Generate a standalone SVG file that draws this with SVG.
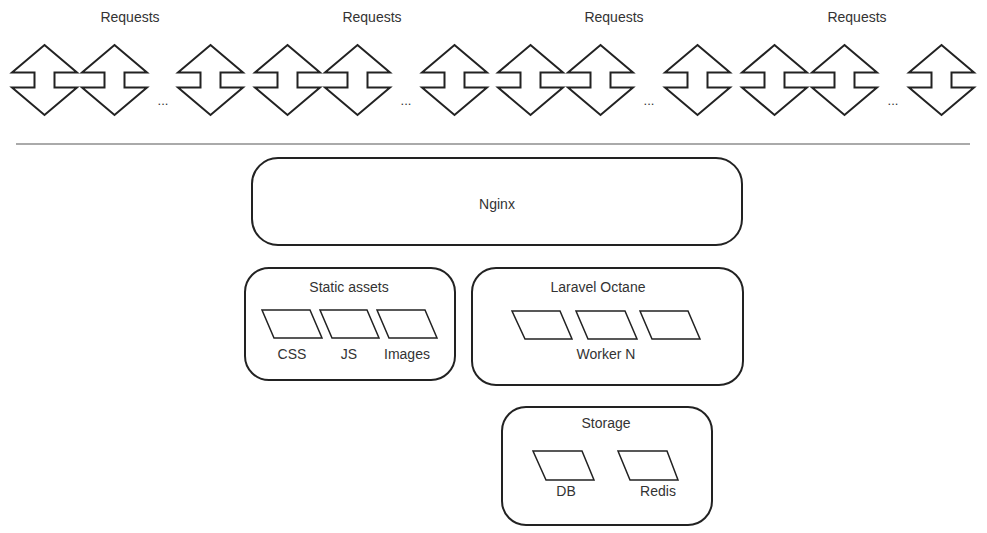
<svg xmlns="http://www.w3.org/2000/svg" width="987" height="533" viewBox="0 0 987 533">
<style>
text{font-family:"Liberation Sans",Arial,sans-serif;font-size:14px;fill:#333;text-anchor:middle;dominant-baseline:central}
.box{fill:#fff;stroke:#222;stroke-width:2}
.pg{fill:#fff;stroke:#222;stroke-width:1.5}
.arr{fill:#fff;stroke:#222;stroke-width:2;stroke-linejoin:miter}
.dots{font-size:13px}
</style>
<defs>
<path id="ud" d="M32.5,-35 L65,-7.5 L42.5,-7.5 L42.5,7.5 L65,7.5 L32.5,35 L0,7.5 L22.5,7.5 L22.5,-7.5 L0,-7.5 Z"/>
</defs>
<rect width="987" height="533" fill="#fff"/>
<g id="requests">
<text x="130" y="17">Requests</text>
<text x="372" y="17">Requests</text>
<text x="614" y="17">Requests</text>
<text x="857" y="17">Requests</text>
<use href="#ud" class="arr" x="12" y="80"/>
<use href="#ud" class="arr" x="82" y="80"/>
<use href="#ud" class="arr" x="178" y="80"/>
<text class="dots" x="163" y="100">...</text>
<use href="#ud" class="arr" x="255" y="80"/>
<use href="#ud" class="arr" x="325" y="80"/>
<use href="#ud" class="arr" x="422" y="80"/>
<text class="dots" x="406" y="100">...</text>
<use href="#ud" class="arr" x="498" y="80"/>
<use href="#ud" class="arr" x="568" y="80"/>
<use href="#ud" class="arr" x="665" y="80"/>
<text class="dots" x="649" y="100">...</text>
<use href="#ud" class="arr" x="742" y="80"/>
<use href="#ud" class="arr" x="812" y="80"/>
<use href="#ud" class="arr" x="909" y="80"/>
<text class="dots" x="893" y="100">...</text>
</g>
<g id="connectors">
<line x1="16" y1="144" x2="970" y2="144" stroke="#aaa" stroke-width="2"/>
</g>
<g id="nginx">
<rect class="box" x="252" y="158" width="490" height="87" rx="26"/>
<text x="497" y="204">Nginx</text>
</g>
<g id="static-assets">
<rect class="box" x="245" y="268" width="210" height="112" rx="24"/>
<text x="349" y="287">Static assets</text>
<polygon class="pg" points="262,310 310,310 322,338 274,338"/>
<polygon class="pg" points="320,310 367,310 379,338 332,338"/>
<polygon class="pg" points="377,310 425,310 437,338 389,338"/>
<text x="292" y="354">CSS</text>
<text x="349" y="354">JS</text>
<text x="407" y="354">Images</text>
</g>
<g id="laravel-octane">
<rect class="box" x="472" y="268" width="271" height="117" rx="24"/>
<text x="598" y="287">Laravel Octane</text>
<polygon class="pg" points="512,311 560,311 572,339 525,339"/>
<polygon class="pg" points="576,311 625,311 637,339 588,339"/>
<polygon class="pg" points="640,311 688,311 700,339 652,339"/>
<text x="606" y="354">Worker N</text>
</g>
<g id="storage">
<rect class="box" x="502" y="407" width="210" height="118" rx="24"/>
<text x="606" y="423">Storage</text>
<polygon class="pg" points="533,451 582,451 594,480 546,480"/>
<polygon class="pg" points="618,451 667,451 678,480 630,480"/>
<text x="566" y="491">DB</text>
<text x="658" y="491">Redis</text>
</g>
</svg>
